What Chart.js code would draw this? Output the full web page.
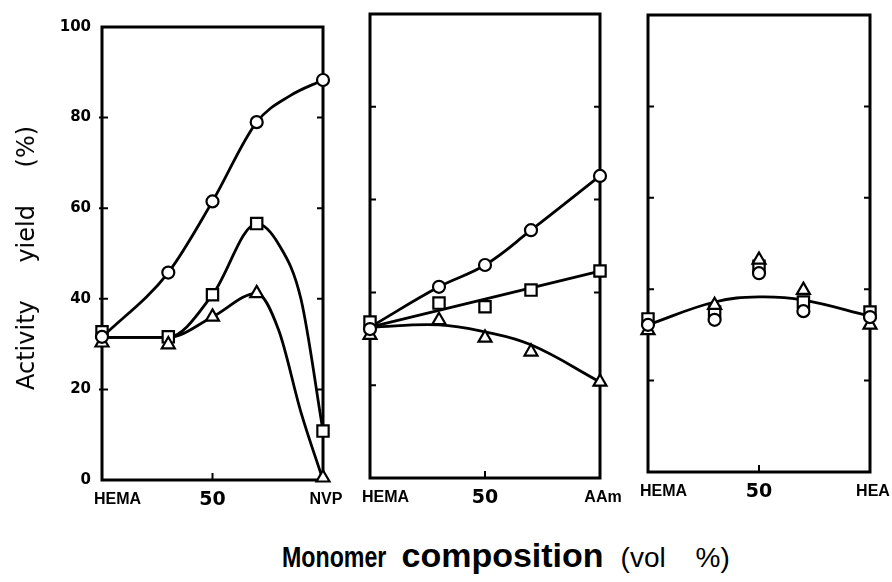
<!DOCTYPE html>
<html>
<head>
<meta charset="utf-8">
<script src="https://cdn.jsdelivr.net/npm/chart.js@4.4.1/dist/chart.umd.min.js"></script>
<style>
    body { margin: 0; background: #fff; width: 892px; height: 582px; overflow: hidden; position: relative; }
    canvas { position: absolute; top: 0; }
    #ytitle {
        position: absolute; left: 26px; top: 258px;
        transform: translate(-50%, -50%) rotate(-90deg);
        font: 24px "DejaVu Sans", sans-serif; word-spacing: 30px; white-space: nowrap; color: #000;
    }
    #xtitle {
        position: absolute; left: 282px; top: 536px; white-space: nowrap; color: #000;
        display: flex; align-items: baseline;
    }
    #xtitle .narrow { display: inline-block; transform: scaleX(0.8); transform-origin: left; margin-right: -25px; }
</style>
</head>
<body>
<canvas id="nvp" width="345" height="520" style="left:0px"></canvas>
<canvas id="aam" width="280" height="520" style="left:345px"></canvas>
<canvas id="hea" width="267" height="520" style="left:625px"></canvas>
<div id="ytitle">Activity yield (%)</div>
<div id="xtitle">
    <span class="narrow" style="font: bold 29px 'Liberation Sans', sans-serif;">Monomer</span>
    <span style="font: bold 34px 'Liberation Sans', sans-serif; margin-left: 14px;">composition</span>
    <span style="font: 28px 'Liberation Sans', sans-serif; margin-left: 17px; word-spacing: 22px;">(vol %)</span>
</div>
<script>
// composition of the second monomer (vol %), HEMA = 0
var xValues = [0, 30, 50, 70, 100];

// HEMA / NVP
var nvpLabels = ["HEMA", "50", "NVP"];
var nvpCircle = [31.6, 45.8, 61.5, 79.0, 88.3];
var nvpSquare = [32.7, 31.6, 40.9, 56.6, 10.8];
var nvpTriangle = [30.3, 29.9, 36.0, 41.2, 0.5];
var nvpCircleCurveX = [0, 30, 50, 70, 85, 100];
var nvpCircleCurve = [31.5, 45.8, 61.5, 79.0, 84.8, 88.3];
var nvpSquareCurveX = [0, 30, 50, 70, 80, 90, 100];
var nvpSquareCurve = [31.5, 31.5, 40.9, 56.6, 52, 40, 10.8];
var nvpTriangleCurveX = [0, 30, 50, 70, 80, 90, 100];
var nvpTriangleCurve = [31.5, 31.5, 36.0, 41.2, 33, 15, 0];

// HEMA / AAm
var aamLabels = ["HEMA", "50", "AAm"];
var aamCircle = [32.1, 41.2, 45.9, 53.4, 65.1];
var aamSquare = [33.6, 37.7, 36.9, 40.5, 44.6];
var aamTriangle = [30.8, 34.0, 30.2, 27.2, 20.7];
var aamCircleCurveX = [0, 30, 50, 70, 100];
var aamCircleCurve = [32.5, 41.2, 45.9, 53.4, 65.1];
var aamSquareCurveX = [0, 100];
var aamSquareCurve = [32.5, 44.6];
var aamTriangleCurveX = [0, 30, 50, 70, 100];
var aamTriangleCurve = [32.5, 33.0, 31.5, 28.7, 20.7];

// HEMA / HEA
var heaLabels = ["HEMA", "50", "HEA"];
var heaCircle = [32.2, 33.3, 43.5, 35.2, 33.9];
var heaSquare = [33.5, 35.0, 45.0, 37.2, 35.0];
var heaTriangle = [31.0, 36.5, 46.4, 39.8, 32.2];
var heaCurveX = [0, 30, 50, 70, 100];
var heaCurve = [32.2, 37.2, 38.3, 37.6, 34.1];

var yTicks = [20, 40, 60, 80];

function pairs(xs, ys) {
    return xs.map((x, i) => ({ x: x, y: ys[i] }));
}

function markers(ys, style, radius) {
    return {
        data: pairs(xValues, ys),
        showLine: false,
        pointStyle: style,
        pointRadius: radius,
        pointBackgroundColor: "#fff",
        pointBorderColor: "#000",
        pointBorderWidth: 2.2,
        clip: false
    };
}

// smooth: true -> plain spline, otherwise monotone
function curve(xs, ys, smooth) {
    var ds = {
        data: pairs(xs, ys),
        showLine: true,
        pointRadius: 0,
        borderColor: "#000",
        borderWidth: 2.8,
        fill: false,
        clip: false
    };
    if (smooth) {
        ds.tension = 0.4;
    } else {
        ds.cubicInterpolationMode = "monotone";
    }
    return ds;
}

// box, inward ticks and the x labels
const framePlugin = {
    id: "frame",
    beforeDatasetsDraw(chart, args, opts) {
        const ctx = chart.ctx;
        const a = chart.chartArea;
        const xs = chart.scales.x;
        const ys = chart.scales.y;
        ctx.save();
        ctx.strokeStyle = "#000";
        ctx.lineWidth = 3;
        ctx.strokeRect(a.left, a.top, a.right - a.left, a.bottom - a.top);
        ctx.lineWidth = 2;
        ctx.beginPath();
        yTicks.forEach(v => {
            const y = ys.getPixelForValue(v);
            ctx.moveTo(a.left - opts.outer, y);
            ctx.lineTo(a.left + 6, y);
            ctx.moveTo(a.right - 6, y);
            ctx.lineTo(a.right, y);
        });
        const x50 = xs.getPixelForValue(50);
        ctx.moveTo(x50, a.bottom);
        ctx.lineTo(x50, a.bottom - 7);
        ctx.stroke();

        ctx.fillStyle = "#000";
        ctx.textBaseline = "middle";
        [0, 50, 100].forEach((v, i) => {
            const label = opts.labels[i];
            const x = xs.getPixelForValue(v);
            if (label === "50") {
                ctx.font = "bold 19px 'DejaVu Sans'";
            } else {
                ctx.font = "bold 16px 'Liberation Sans'";
            }
            if (i === 0) {
                ctx.textAlign = "left";
                ctx.fillText(label, x - 8, a.bottom + 20);
            } else {
                ctx.textAlign = "center";
                ctx.fillText(label, x + (i === 2 ? 3 : 0), a.bottom + 20);
            }
        });
        ctx.restore();
    }
};

function makePanel(id, sets, labels, pad, showY) {
    var yScale = {
        min: 0, max: 100,
        display: showY,
        grid: { display: false, drawTicks: false },
        border: { display: false },
        ticks: {
            stepSize: 20,
            padding: 11,
            color: "#000",
            font: { family: "DejaVu Sans", weight: "bold", size: 15 }
        }
    };
    if (showY) {
        yScale.afterFit = function (scale) { scale.width = 102; };
    }
    new Chart(document.getElementById(id), {
        type: "scatter",
        data: { datasets: sets },
        options: {
            responsive: false,
            animation: false,
            layout: { padding: pad },
            plugins: {
                legend: { display: false },
                tooltip: { enabled: false },
                frame: { labels: labels, outer: showY ? 3 : 0 }
            },
            scales: {
                x: { type: "linear", min: 0, max: 100, display: false },
                y: yScale
            }
        },
        plugins: [framePlugin]
    });
}

makePanel("nvp", [
    markers(nvpCircle, "circle", 6),
    markers(nvpTriangle, "triangle", 7.5),
    markers(nvpSquare, "rect", 8),
    curve(nvpCircleCurveX, nvpCircleCurve, false),
    curve(nvpSquareCurveX, nvpSquareCurve, false),
    curve(nvpTriangleCurveX, nvpTriangleCurve, false)
], nvpLabels, { left: 0, right: 22, top: 27, bottom: 40 }, true);

makePanel("aam", [
    markers(aamCircle, "circle", 6),
    markers(aamTriangle, "triangle", 7.5),
    markers(aamSquare, "rect", 8),
    curve(aamCircleCurveX, aamCircleCurve, true),
    curve(aamSquareCurveX, aamSquareCurve, false),
    curve(aamTriangleCurveX, aamTriangleCurve, true)
], aamLabels, { left: 25, right: 25, top: 14, bottom: 42 }, false);

makePanel("hea", [
    markers(heaCircle, "circle", 6),
    markers(heaTriangle, "triangle", 7.5),
    markers(heaSquare, "rect", 8),
    curve(heaCurveX, heaCurve, true)
], heaLabels, { left: 23, right: 22, top: 15, bottom: 48 }, false);
</script>
</body>
</html>
